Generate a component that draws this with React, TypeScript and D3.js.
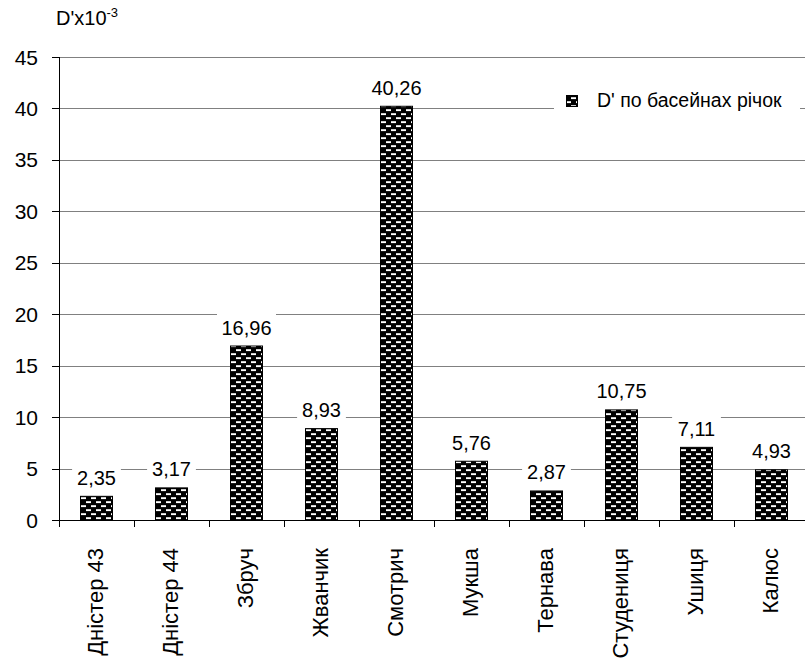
import React from "react";
import * as d3 from "d3";

// Basin names and D' values (x10^-3)
const categories = [
  "Дністер 43",
  "Дністер 44",
  "Збруч",
  "Жванчик",
  "Смотрич",
  "Мукша",
  "Тернава",
  "Студениця",
  "Ушиця",
  "Калюс",
];
const values = [2.35, 3.17, 16.96, 8.93, 40.26, 5.76, 2.87, 10.75, 7.11, 4.93];
const yTicks = [0, 5, 10, 15, 20, 25, 30, 35, 40, 45];
const seriesName = "D' по басейнах річок";

const W = 805;
const H = 668;
const FONT = "'Liberation Sans', Arial, Helvetica, sans-serif";

const fmt = (v: number) => v.toFixed(2).replace(".", ",");

export default function App() {
  const x = d3
    .scaleBand<string>()
    .domain(categories)
    .range([59, 809])
    .paddingInner(0.56)
    .paddingOuter(0.28);
  const y = d3.scaleLinear().domain([0, 45]).range([520, 57]);
  const step = x.step();
  const x0 = x.range()[0];

  return (
    <svg
      width={W}
      height={H}
      style={{ position: "absolute", left: 0, top: 0, background: "#fff" }}
      fontFamily={FONT}
    >
      <defs>
        <pattern id="brick" width={10} height={8} patternUnits="userSpaceOnUse">
          <rect width={10} height={8} fill="#000" />
          <rect x={1} y={1.2} width={5} height={1.9} fill="#fff" />
          <rect x={6} y={5.2} width={4} height={1.9} fill="#fff" />
          <rect x={0} y={5.2} width={1} height={1.9} fill="#fff" />
        </pattern>
      </defs>
      <rect width={W} height={H} fill="#fff" />

      {/* horizontal gridlines */}
      {yTicks
        .filter((t) => t > 0)
        .map((t) => (
          <line
            key={`g${t}`}
            x1={59}
            x2={W}
            y1={Math.round(y(t)) + 0.5}
            y2={Math.round(y(t)) + 0.5}
            stroke="#808080"
            strokeWidth={1}
          />
        ))}

      {/* legend */}
      <rect x={554} y={84} width={246} height={36} fill="#fff" />
      <rect x={566.5} y={95.5} width={11} height={11} fill="url(#brick)" stroke="#000" />
      <text x={597} y={107} fontSize={19.5} fill="#000">
        {seriesName}
      </text>

      {/* bars */}
      {categories.map((c, i) => (
        <rect
          key={c}
          x={x(c)! + 0.5}
          y={y(values[i]) + 0.5}
          width={x.bandwidth() - 1}
          height={y(0) - y(values[i])}
          fill="url(#brick)"
          stroke="#000"
          strokeWidth={1}
        />
      ))}

      {/* value labels with white background */}
      {categories.map((c, i) => {
        const cx = x(c)! + x.bandwidth() / 2;
        const by = y(values[i]) - 11;
        const label = fmt(values[i]);
        const tw = label.length * 10.2;
        return (
          <g key={`l${c}`}>
            <rect x={cx - tw / 2 - 4} y={by - 21} width={tw + 8} height={24} fill="#fff" />
            <text x={cx} y={by} fontSize={20} textAnchor="middle" fill="#000">
              {label}
            </text>
          </g>
        );
      })}

      {/* axes */}
      <line x1={59.5} x2={59.5} y1={57} y2={520} stroke="#000" />
      <line x1={59} x2={W} y1={520.5} y2={520.5} stroke="#000" />
      {yTicks.map((t) => (
        <g key={`yt${t}`}>
          <line x1={52} x2={59} y1={Math.round(y(t)) + 0.5} y2={Math.round(y(t)) + 0.5} stroke="#000" />
          <text x={38} y={y(t) + 7.5} fontSize={21} textAnchor="end" fill="#000">
            {t}
          </text>
        </g>
      ))}
      {categories.map((c, i) => (
        <line
          key={`xt${c}`}
          x1={Math.round(x0 + i * step) + 0.5}
          x2={Math.round(x0 + i * step) + 0.5}
          y1={520}
          y2={527}
          stroke="#000"
        />
      ))}
      {categories.map((c) => {
        const cx = x(c)! + x.bandwidth() / 2 + 6;
        return (
          <text
            key={`xl${c}`}
            transform={`translate(${cx},548) rotate(-90)`}
            fontSize={22}
            textAnchor="end"
            fill="#000"
          >
            {c}
          </text>
        );
      })}

      {/* axis title */}
      <text x={56} y={25} fontSize={20} fill="#000">
        D'x10
        <tspan fontSize={13} dy={-8}>
          -3
        </tspan>
      </text>
    </svg>
  );
}
